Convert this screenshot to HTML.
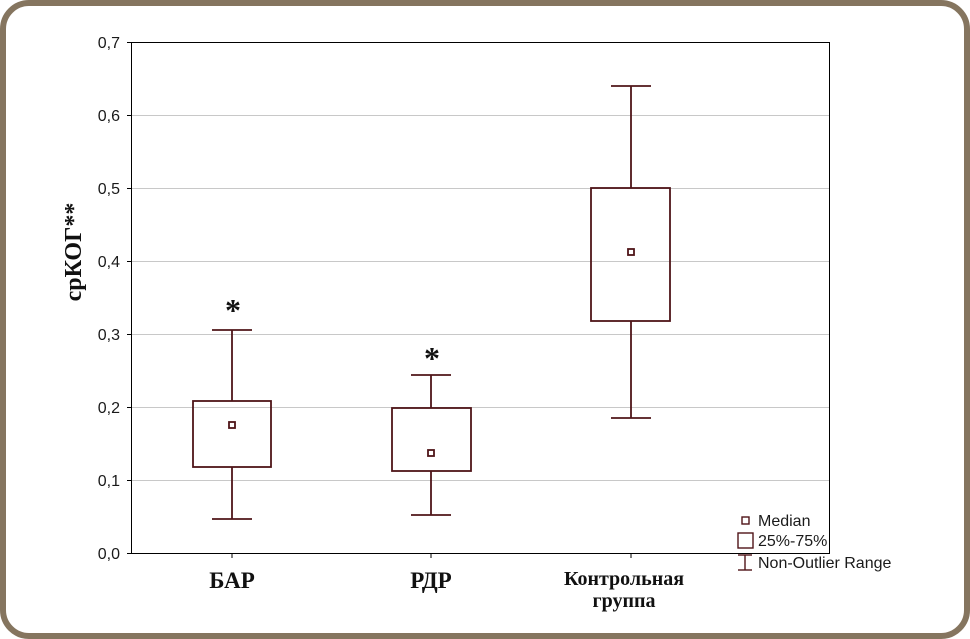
<!DOCTYPE html>
<html><head><meta charset="utf-8"><style>
body{margin:0;background:#fff;}
</style></head><body>
<svg width="970" height="639" xmlns="http://www.w3.org/2000/svg" style="display:block">
<rect x="3" y="3" width="964" height="633" rx="26" ry="26" fill="#fff" stroke="#85755F" stroke-width="6"/>
<g stroke="#c8c8c8" stroke-width="1">
<line x1="131" y1="115.5" x2="830" y2="115.5"/>
<line x1="131" y1="188.5" x2="830" y2="188.5"/>
<line x1="131" y1="261.5" x2="830" y2="261.5"/>
<line x1="131" y1="334.5" x2="830" y2="334.5"/>
<line x1="131" y1="407.5" x2="830" y2="407.5"/>
<line x1="131" y1="480.5" x2="830" y2="480.5"/>
</g>
<rect x="131.5" y="42.5" width="698" height="511" fill="none" stroke="#000" stroke-width="1"/>
<g stroke="#000" stroke-width="1">
<line x1="127" y1="42.5" x2="131" y2="42.5"/><line x1="127" y1="115.5" x2="131" y2="115.5"/>
<line x1="127" y1="188.5" x2="131" y2="188.5"/><line x1="127" y1="261.5" x2="131" y2="261.5"/>
<line x1="127" y1="334.5" x2="131" y2="334.5"/><line x1="127" y1="407.5" x2="131" y2="407.5"/>
<line x1="127" y1="480.5" x2="131" y2="480.5"/><line x1="127" y1="553.5" x2="131" y2="553.5"/>
<line x1="232" y1="553" x2="232" y2="558"/><line x1="431" y1="553" x2="431" y2="558"/><line x1="631" y1="553" x2="631" y2="558"/>
</g>
<g font-family="Liberation Sans, sans-serif" font-size="16" fill="#1a1a1a" text-anchor="end">
<text x="120" y="48">0,7</text><text x="120" y="121">0,6</text><text x="120" y="194">0,5</text>
<text x="120" y="267">0,4</text><text x="120" y="340">0,3</text><text x="120" y="413">0,2</text>
<text x="120" y="486">0,1</text><text x="120" y="559">0,0</text>
</g>
<text transform="translate(81,252) rotate(-90)" font-family="Liberation Serif, serif" font-weight="bold" font-size="24" text-anchor="middle" fill="#111">срКОГ**</text>
<g stroke="#4f1418" stroke-width="1.8" fill="none">
<line x1="232" y1="330" x2="232" y2="401"/><line x1="232" y1="467" x2="232" y2="519"/>
<line x1="212" y1="330" x2="252" y2="330"/><line x1="212" y1="519" x2="252" y2="519"/>
<rect x="193" y="401" width="78" height="66"/><rect x="229" y="422" width="6" height="6"/>
<line x1="431" y1="375" x2="431" y2="408"/><line x1="431" y1="471" x2="431" y2="515"/>
<line x1="411" y1="375" x2="451" y2="375"/><line x1="411" y1="515" x2="451" y2="515"/>
<rect x="392" y="408" width="79" height="63"/><rect x="428" y="450" width="6" height="6"/>
<line x1="631" y1="86" x2="631" y2="188"/><line x1="631" y1="321" x2="631" y2="418"/>
<line x1="611" y1="86" x2="651" y2="86"/><line x1="611" y1="418" x2="651" y2="418"/>
<rect x="591" y="188" width="79" height="133"/><rect x="628" y="249" width="6" height="6"/>
</g>
<g font-family="Liberation Serif, serif" font-weight="bold" font-size="32" text-anchor="middle" fill="#111">
<text x="233" y="321">*</text><text x="432" y="369">*</text>
</g>
<g font-family="Liberation Serif, serif" font-weight="bold" fill="#111" text-anchor="middle">
<text x="232" y="588" font-size="23">БАР</text>
<text x="431" y="588" font-size="23">РДР</text>
<text x="624" y="585" font-size="20">Контрольная</text>
<text x="624" y="607" font-size="20">группа</text>
</g>
<g stroke="#4f1418" stroke-width="1.4" fill="none">
<rect x="742" y="517" width="7" height="7"/>
<rect x="738" y="533" width="15" height="15"/>
<line x1="745" y1="555" x2="745" y2="570"/><line x1="738" y1="555" x2="752" y2="555"/><line x1="738" y1="570" x2="752" y2="570"/>
</g>
<g font-family="Liberation Sans, sans-serif" font-size="16" fill="#1a1a1a">
<text x="758" y="526">Median</text>
<text x="758" y="546">25%-75%</text>
<text x="758" y="568">Non-Outlier Range</text>
</g>
</svg>
</body></html>
